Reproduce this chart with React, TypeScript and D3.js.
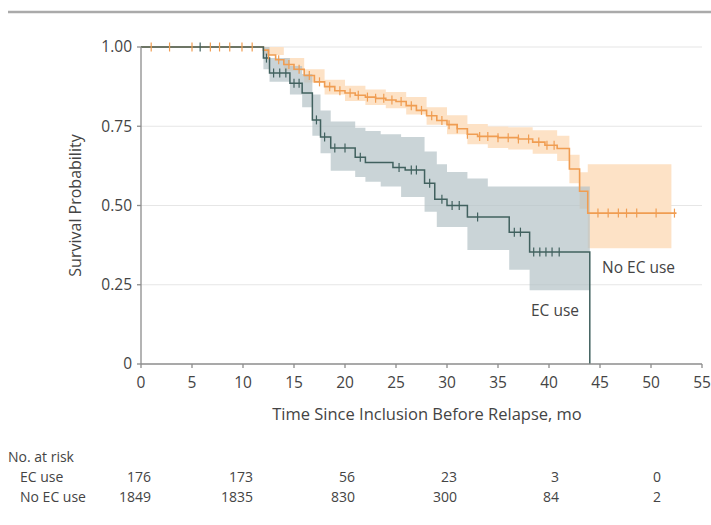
import React from "react";
import * as d3 from "d3";

// survival steps: [month, probability after the step]
const ecCurve: [number, number][] = [
  [0, 1], [12, 0.965], [12.6, 0.918], [14.6, 0.886], [15.8, 0.855], [16.8, 0.77],
  [17.6, 0.716], [18.6, 0.681], [21, 0.652], [22, 0.636], [24.7, 0.62], [25.9, 0.612],
  [27.8, 0.57], [28.8, 0.52], [30, 0.5], [32, 0.464], [36.1, 0.416], [38.1, 0.353], [44, 0],
];
const noEcCurve: [number, number][] = [
  [0, 1], [12, 0.99], [12.5, 0.975], [13.2, 0.96], [14, 0.945], [15, 0.93], [16, 0.91],
  [17, 0.89], [18, 0.875], [19, 0.862], [20, 0.855], [21, 0.848], [22, 0.842], [23, 0.838],
  [24, 0.833], [25, 0.828], [26, 0.815], [27, 0.8], [28, 0.783], [29, 0.768], [30, 0.755],
  [31, 0.742], [32, 0.725], [33, 0.718], [35, 0.714], [37, 0.71], [38.4, 0.7], [39.6, 0.69],
  [40.8, 0.68], [42, 0.615], [43, 0.545], [43.8, 0.476], [52.5, 0.476],
];

// confidence bands: [month, lower, upper]
const ecBand: [number, number, number][] = [
  [12, 0.93, 1], [12.6, 0.89, 0.965], [14.6, 0.85, 0.94], [15.8, 0.81, 0.915],
  [16.8, 0.72, 0.85], [17.6, 0.665, 0.8], [18.6, 0.61, 0.765], [21, 0.59, 0.745],
  [22, 0.575, 0.735], [23.5, 0.56, 0.725], [25.5, 0.527, 0.716], [27.8, 0.48, 0.67],
  [29, 0.432, 0.63], [30, 0.432, 0.606], [32, 0.36, 0.585], [34, 0.36, 0.56],
  [36.1, 0.297, 0.56], [38.1, 0.233, 0.56], [44, 0.233, 0.56],
];
const noEcBand: [number, number, number][] = [
  [12, 0.975, 1], [14, 0.925, 0.965], [16, 0.888, 0.93], [18, 0.85, 0.897],
  [20, 0.83, 0.878], [22, 0.817, 0.866], [24, 0.807, 0.858], [26, 0.787, 0.842],
  [28, 0.755, 0.81], [30, 0.725, 0.785], [32, 0.693, 0.757], [34, 0.681, 0.749],
  [36, 0.677, 0.747], [38.4, 0.663, 0.737], [40.8, 0.64, 0.72], [42, 0.57, 0.66],
  [43, 0.49, 0.605], [43.8, 0.365, 0.63], [52, 0.365, 0.63],
];

// censored observations (months)
const ecCensor = [
  5.8, 12.3, 13, 13.6, 14.2, 15, 15.5, 17.2, 18, 19, 20, 21.5, 25.3, 26.5, 27,
  28.3, 29.5, 30.5, 31.2, 33, 36.6, 37.2, 38.5, 39.1, 39.7, 40.3, 41,
];
const noEcCensor = [
  1, 2.8, 5, 6.8, 7.7, 8.7, 9.9, 10.9, 12.5, 13.5, 14.5, 15.5, 16.5, 17.5, 18.5,
  19.5, 20.5, 21.3, 22.2, 23, 23.8, 24.6, 25.5, 26.5, 27.5, 28.5, 29.5, 30.2, 31,
  32, 33.2, 34, 35, 36, 37, 38, 39, 39.8, 40.5, 44.8, 45.8, 46.8, 47.6, 48.6, 50.5, 52.3,
];

const xTicks = [0, 5, 10, 15, 20, 25, 30, 35, 40, 45, 50, 55];
const yTicks = [0, 0.25, 0.5, 0.75, 1];

const riskTimes = [0, 10, 20, 30, 40, 50];
const riskEc = [176, 173, 56, 23, 3, 0];
const riskNoEc = [1849, 1835, 830, 300, 84, 2];

const orange = "#f09d52";
const teal = "#41615f";
const font = "'Open Sans', sans-serif";
const textColor = "#444";
const fs = 15.5;
const riskFs = 14;

const valueAt = (curve: [number, number][], t: number) => {
  let v = curve[0][1];
  for (const [ct, cv] of curve) if (ct <= t) v = cv;
  return v;
};

export default function App() {
  const x = d3.scaleLinear().domain([0, 55]).range([141, 702]);
  const y = d3.scaleLinear().domain([0, 1]).range([364, 47]);

  const line = d3.line<[number, number]>()
    .x((d) => x(d[0]))
    .y((d) => y(d[1]))
    .curve(d3.curveStepAfter);
  const band = d3.area<[number, number, number]>()
    .x((d) => x(d[0]))
    .y0((d) => y(d[1]))
    .y1((d) => y(d[2]))
    .curve(d3.curveStepAfter);

  const censor = (times: number[], curve: [number, number][], color: string) =>
    times.map((t, i) => {
      const v = valueAt(curve, t);
      return <line key={i} x1={x(t)} x2={x(t)} y1={y(v) - 4.5} y2={y(v) + 4.5} stroke={color} strokeWidth={1.2} />;
    });

  return (
    <svg width={711} height={525} style={{ position: "absolute", left: 0, top: 0, background: "#fff" }}>
      <line x1={8} x2={711} y1={12} y2={12} stroke="#aaa" strokeWidth={2.5} />

      {yTicks.filter((d) => d > 0).map((d) => (
        <line key={d} x1={x(0)} x2={x(55)} y1={y(d)} y2={y(d)} stroke="#e6e6e6" strokeWidth={1.2} />
      ))}

      <path d={band(noEcBand) ?? ""} fill="#fde2c6" />
      <path d={band(ecBand) ?? ""} fill="#b3c2c6" fillOpacity={0.7} />

      <path d={line(noEcCurve) ?? ""} fill="none" stroke={orange} strokeWidth={1.6} />
      <path d={line(ecCurve) ?? ""} fill="none" stroke={teal} strokeWidth={1.5} />
      {censor(noEcCensor, noEcCurve, orange)}
      {censor(ecCensor, ecCurve, teal)}

      {/* axes */}
      <line x1={x(0)} x2={x(0)} y1={y(1)} y2={y(0)} stroke="#8c8c8c" strokeWidth={1.3} />
      <line x1={x(0)} x2={x(55)} y1={y(0)} y2={y(0)} stroke="#8c8c8c" strokeWidth={1.3} />
      {yTicks.map((d) => (
        <g key={d}>
          <line x1={x(0) - 4} x2={x(0)} y1={y(d)} y2={y(d)} stroke="#8c8c8c" strokeWidth={1.3} />
          <text x={x(0) - 9} y={y(d)} dy="0.35em" textAnchor="end" fontFamily={font} fontSize={fs} fill={textColor}>
            {d === 0 ? "0" : d.toFixed(2)}
          </text>
        </g>
      ))}
      {xTicks.map((d) => (
        <g key={d}>
          <line x1={x(d)} x2={x(d)} y1={y(0)} y2={y(0) + 4} stroke="#8c8c8c" strokeWidth={1.3} />
          <text x={x(d)} y={y(0) + 19} dy="0.35em" textAnchor="middle" fontFamily={font} fontSize={fs} fill={textColor}>
            {d}
          </text>
        </g>
      ))}

      <text transform={`translate(75,${(y(0) + y(1)) / 2}) rotate(-90)`} dy="0.35em" textAnchor="middle"
        fontFamily={font} fontSize={16} fill={textColor}>
        Survival Probability
      </text>
      <text x={427} y={414} dy="0.35em" textAnchor="middle" fontFamily={font} fontSize={16.5} fill={textColor}>
        Time Since Inclusion Before Relapse, mo
      </text>

      <text x={602} y={268} dy="0.35em" fontFamily={font} fontSize={fs} fill={textColor}>No EC use</text>
      <text x={531} y={311} dy="0.35em" fontFamily={font} fontSize={fs} fill={textColor}>EC use</text>

      {/* number at risk */}
      <text x={8} y={457} dy="0.35em" fontFamily={font} fontSize={riskFs} fill={textColor}>No. at risk</text>
      <text x={20} y={477} dy="0.35em" fontFamily={font} fontSize={riskFs} fill={textColor}>EC use</text>
      <text x={20} y={497} dy="0.35em" fontFamily={font} fontSize={riskFs} fill={textColor}>No EC use</text>
      {riskTimes.map((t, i) => (
        <g key={t}>
          <text x={x(t) + 10} y={477} dy="0.35em" textAnchor="end" fontFamily={font} fontSize={riskFs} fill={textColor}>{riskEc[i]}</text>
          <text x={x(t) + 10} y={497} dy="0.35em" textAnchor="end" fontFamily={font} fontSize={riskFs} fill={textColor}>{riskNoEc[i]}</text>
        </g>
      ))}
    </svg>
  );
}
